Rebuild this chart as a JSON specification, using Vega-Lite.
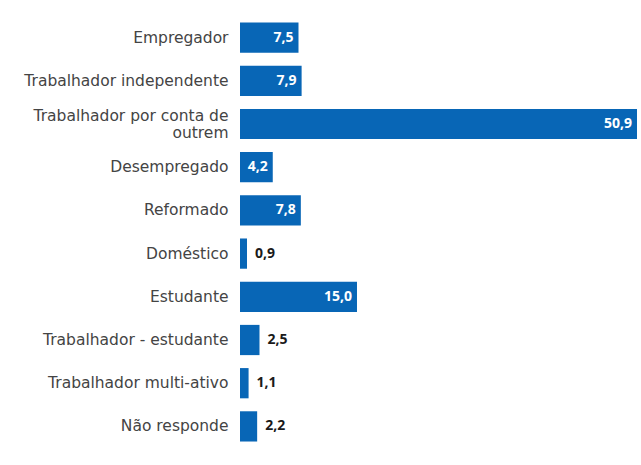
{
  "$schema": "https://vega.github.io/schema/vega-lite/v6.json",
  "width": 397,
  "height": 432,
  "autosize": {"type": "none"},
  "padding": {"left": 240, "top": 16, "right": 4, "bottom": 17},
  "background": "white",
  "config": {
    "view": {"stroke": null},
    "locale": {"number": {"decimal": ",", "thousands": ".", "grouping": [3], "currency": ["", " €"]}}
  },
  "data": {
    "values": [
      {"categoria": "Empregador", "valor": 7.5},
      {"categoria": "Trabalhador independente", "valor": 7.9},
      {"categoria": "Trabalhador por conta de outrem", "valor": 50.9},
      {"categoria": "Desempregado", "valor": 4.2},
      {"categoria": "Reformado", "valor": 7.8},
      {"categoria": "Doméstico", "valor": 0.9},
      {"categoria": "Estudante", "valor": 15.0},
      {"categoria": "Trabalhador - estudante", "valor": 2.5},
      {"categoria": "Trabalhador multi-ativo", "valor": 1.1},
      {"categoria": "Não responde", "valor": 2.2}
    ]
  },
  "encoding": {
    "y": {
      "field": "categoria",
      "type": "nominal",
      "sort": null,
      "scale": {"paddingInner": 0.3, "paddingOuter": 0.15},
      "axis": {
        "title": null,
        "domain": false,
        "ticks": false,
        "labelPadding": 12,
        "labelFont": "DejaVu Sans",
        "labelFontSize": 15.5,
        "labelColor": "#444444",
        "labelLineHeight": 17,
        "labelLimit": 400,
        "labelOffset": {"condition": {"test": "datum.value == 'Trabalhador por conta de outrem'", "value": -8}, "value": 0},
        "labelExpr": "datum.value == 'Trabalhador por conta de outrem' ? ['Trabalhador por conta de', 'outrem'] : datum.value"
      }
    },
    "x": {
      "field": "valor",
      "type": "quantitative",
      "scale": {"domain": [0, 50.9], "nice": false},
      "axis": null
    }
  },
  "layer": [
    {"mark": {"type": "bar", "color": "#0866B6"}},
    {
      "transform": [{"filter": "datum.valor >= 3"}],
      "mark": {"type": "text", "align": "right", "dx": -5, "font": "Open Sans", "fontSize": 14, "fontWeight": "bold", "color": "white", "baseline": "middle"},
      "encoding": {"text": {"field": "valor", "type": "quantitative", "format": ".1f"}}
    },
    {
      "transform": [{"filter": "datum.valor < 3"}],
      "mark": {"type": "text", "align": "left", "dx": 8, "font": "Open Sans", "fontSize": 14, "fontWeight": "bold", "color": "#1a1a1a", "baseline": "middle"},
      "encoding": {"text": {"field": "valor", "type": "quantitative", "format": ".1f"}}
    }
  ]
}
